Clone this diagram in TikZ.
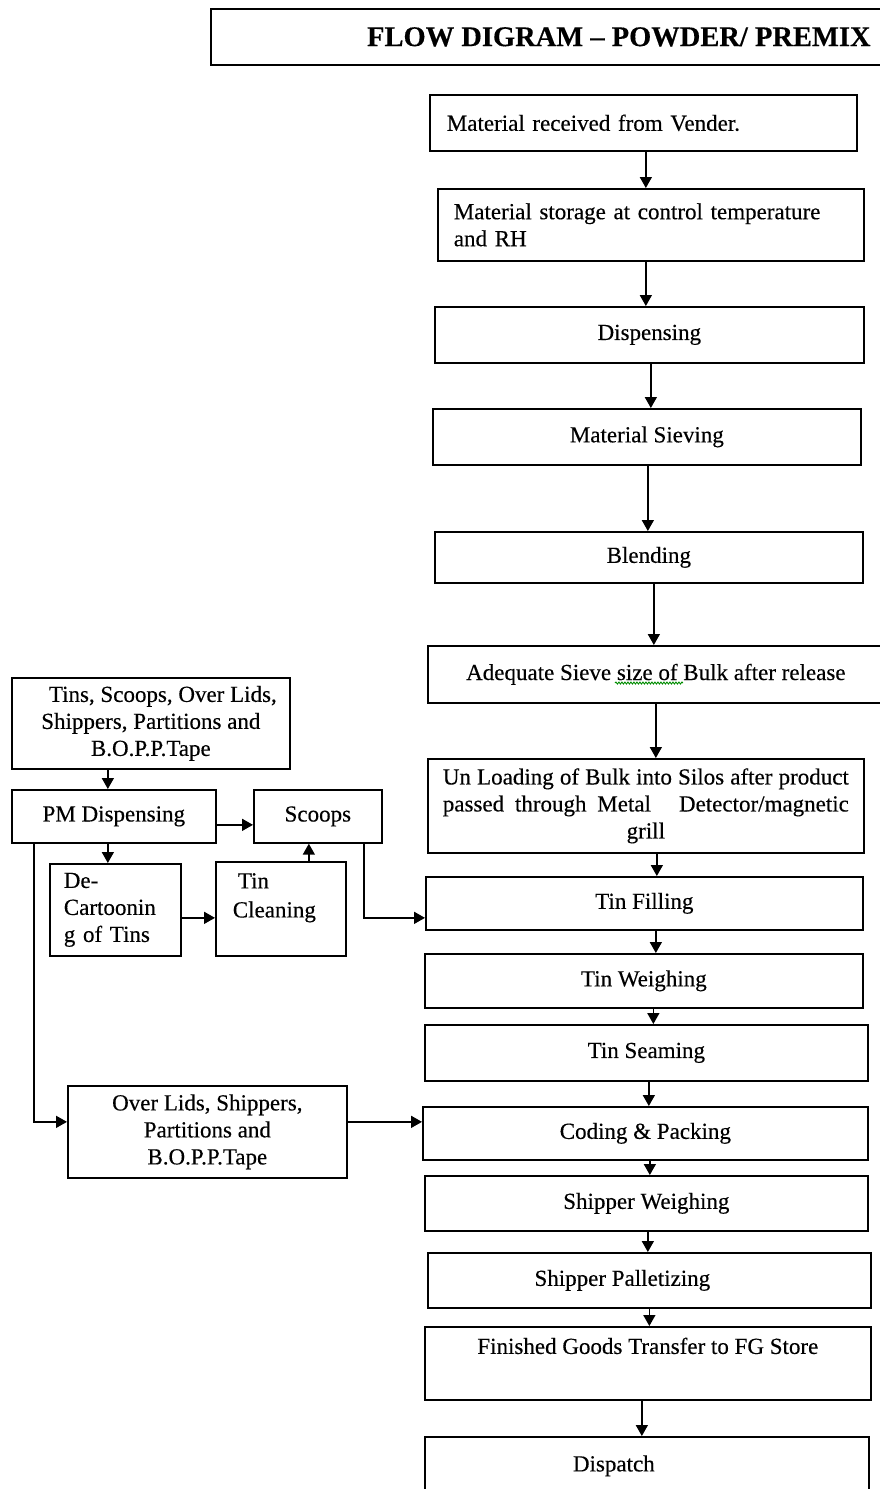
\documentclass[tikz,border=0pt]{standalone}
\usepackage{fontspec}
\setmainfont{Liberation Serif}[FakeBold=0.35]
\usetikzlibrary{arrows.meta,decorations.pathmorphing}
\newcommand\fsz{\fontsize{23}{27}\selectfont}
\newcommand\ftitle{\fontsize{28.5}{32}\selectfont\bfseries}
\begin{document}
\begin{tikzpicture}[x=1pt,y=-1pt,
  box/.style={draw, line width=1.7pt, anchor=north west, inner sep=0pt, font=\fsz, align=center},
  lbox/.style={box, align=left},
  arr/.style={line width=1.6pt, -{Triangle[length=11pt,width=12pt]}},
  wavy/.style={draw=green!55!black, line width=0.9pt, decorate, decoration={snake, amplitude=1pt, segment length=3pt}}
]
\useasboundingbox (0,0) rectangle (880,1489);

% title
\node[box, font=\ftitle, minimum width=676pt, minimum height=56pt] (title) at (210,8)
  {\hspace*{140pt}FLOW DIGRAM – POWDER/ PREMIX};

% main column
\node[lbox, minimum width=427pt, minimum height=56pt, text width=393pt, inner xsep=17pt] (n1) at (429,94)
  {Material received from Vender.};
\node[lbox, minimum width=426pt, minimum height=72pt, text width=394pt, inner xsep=16pt] (n2) at (437,188)
  {Material storage at control temperature\\and RH};
\node[box, minimum width=429pt, minimum height=56pt] (n3) at (434,306) {Dispensing};
\node[box, minimum width=428pt, minimum height=56pt] (n4) at (432,408) {Material Sieving};
\node[box, minimum width=428pt, minimum height=51pt] (n5) at (434,531) {Blending};
\node[box, minimum width=456pt, minimum height=57pt] (n6) at (427,645) {Adequate Sieve size of Bulk after release};
\node[box, minimum width=436pt, minimum height=94pt] (n7) at (427,758)
  {\makebox[406pt][s]{Un Loading of Bulk into Silos after product}\\
   \makebox[406pt][s]{passed through Metal\hspace{28pt}Detector/magnetic}\\
   grill};
\node[box, minimum width=437pt, minimum height=53pt] (n8) at (425,876) {Tin Filling};
\node[box, minimum width=438pt, minimum height=54pt] (n9) at (424,953) {Tin Weighing};
\node[box, minimum width=443pt, minimum height=56pt] (n10) at (424,1024) {Tin Seaming};
\node[box, minimum width=445pt, minimum height=53pt] (n11) at (422,1106) {Coding \& Packing};
\node[box, minimum width=443pt, minimum height=55pt] (n12) at (424,1175) {Shipper Weighing};
\node[box, minimum width=443pt, minimum height=55pt] (n13) at (427,1252) {Shipper Palletizing\hspace*{54pt}};
\node[box, minimum width=446pt, minimum height=73pt] (n14) at (424,1326) {Finished Goods Transfer to FG Store\\ \strut};
\node[box, minimum width=444pt, minimum height=58pt] (n15) at (424,1436) {Dispatch\hspace*{66pt}};

% left side
\node[box, minimum width=278pt, minimum height=91pt] (A) at (11,677)
  {\hspace*{24pt}Tins, Scoops, Over Lids,\\Shippers, Partitions and\\B.O.P.P.Tape};
\node[box, minimum width=204pt, minimum height=53pt] (B) at (11,789) {PM Dispensing};
\node[box, minimum width=128pt, minimum height=53pt] (C) at (253,789) {Scoops};
\node[lbox, minimum width=131pt, minimum height=92pt, text width=103pt, inner xsep=14pt] (D) at (49,863)
  {De-\\Cartoonin\\g of Tins};
\node[lbox, minimum width=130pt, minimum height=94pt, text width=96pt, inner xsep=17pt] (E) at (215,861)
  {\hspace*{5pt}Tin\\[2pt]Cleaning\\[-8pt] \strut};
\node[box, minimum width=279pt, minimum height=92pt] (F) at (67,1085)
  {Over Lids, Shippers,\\Partitions and\\B.O.P.P.Tape};

% spell-check underline
\draw[wavy] (615,683) -- (683,683);

% main arrows
\draw[arr] ([xshift=2.5pt]n1.south) -- ([xshift=2.5pt]n1.south |- n2.north);
\draw[arr] ([xshift=-5pt]n2.south) -- ([xshift=-5pt]n2.south |- n3.north);
\draw[arr] ([xshift=1.5pt]n3.south) -- ([xshift=1.5pt]n3.south |- n4.north);
\draw[arr] ([xshift=1pt]n4.south) -- ([xshift=1pt]n4.south |- n5.north);
\draw[arr] ([xshift=5pt]n5.south) -- ([xshift=5pt]n5.south |- n6.north);
\draw[arr] (n6.south) -- (n6.south |- n7.north);
\draw[arr] ([xshift=11pt]n7.south) -- ([xshift=11pt]n7.south |- n8.north);
\draw[arr] ([xshift=11.5pt]n8.south) -- ([xshift=11.5pt]n8.south |- n9.north);
\draw[arr] ([xshift=9.5pt]n9.south) -- ([xshift=9.5pt]n9.south |- n10.north);
\draw[arr] ([xshift=2.5pt]n10.south) -- ([xshift=2.5pt]n10.south |- n11.north);
\draw[arr] ([xshift=4.5pt]n11.south) -- ([xshift=4.5pt]n11.south |- n12.north);
\draw[arr] ([xshift=1.5pt]n12.south) -- ([xshift=1.5pt]n12.south |- n13.north);
\draw[arr] (n13.south) -- (n13.south |- n14.north);
\draw[arr] ([xshift=-6pt]n14.south) -- ([xshift=-6pt]n14.south |- n15.north);

% left arrows
\draw[arr] ([xshift=-43pt]A.south) -- ([xshift=-43pt]A.south |- B.north);
\draw[arr] ([yshift=-8.5pt]B.east) -- ([yshift=-8.5pt]B.east -| C.west);
\draw[arr] ([xshift=-6pt]B.south) -- ([xshift=-6pt]B.south |- D.north);
\draw[arr] ([yshift=-8pt]D.east) -- ([yshift=-8pt]D.east -| E.west);
\draw[arr] ([xshift=28pt]E.north) -- ([xshift=28pt]E.north |- C.south);
\draw[arr] ([xshift=46pt]C.south) |- ([yshift=-14.5pt]n8.west);
\draw[arr] ([xshift=-80pt]B.south) |- ([yshift=10pt]F.west);
\draw[arr] ([yshift=10pt]F.east) -- ([yshift=10pt]F.east -| n11.west);
\end{tikzpicture}
\end{document}
